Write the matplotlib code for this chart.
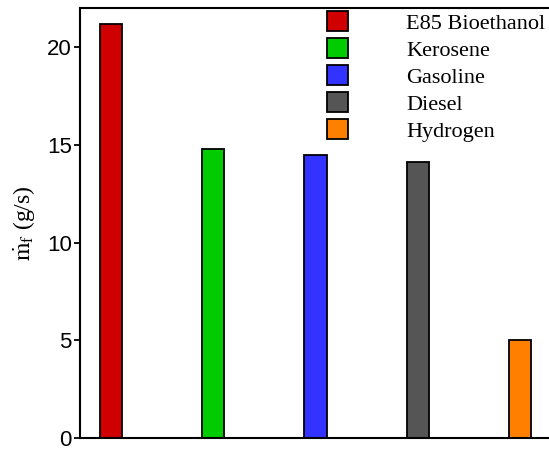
import matplotlib
matplotlib.use("Agg")
import matplotlib.pyplot as plt
from matplotlib.patches import Patch

fuels = ["E85 Bioethanol", "Kerosene", "Gasoline", "Diesel", "Hydrogen"]
mdot = [21.2, 14.77, 14.49, 14.1, 5.0]
colors = ["#d00000", "#00cc00", "#3333ff", "#555555", "#ff8000"]
yticks = [0, 5, 10, 15, 20]

plt.rcParams['mathtext.fontset'] = 'stix'

fig = plt.figure(figsize=(5.49, 4.5), dpi=100)
ax = fig.add_axes([80 / 549, 12 / 450, 471 / 549, 430 / 450])

x = list(range(len(fuels)))
ax.bar(x, mdot, width=0.215, color=colors, edgecolor="black", linewidth=1.3)

ax.set_xlim(-0.3, 4.3)
ax.set_ylim(0, 22)
ax.set_xticks([])
ax.set_yticks(yticks)
ax.tick_params(axis="y", direction="out", length=4, width=1.3, labelsize=16, pad=2)
for lab in ax.get_yticklabels():
    lab.set_family("Liberation Sans")
for s in ax.spines.values():
    s.set_linewidth(1.5)

ax.set_ylabel(r"$\dot{\mathrm{m}}_\mathrm{f}$ (g/s)", fontsize=17, family="Liberation Serif", labelpad=6)

handles = [Patch(facecolor=c, edgecolor="black", linewidth=1.3) for c in colors]
ax.legend(handles, fuels, loc="upper left", bbox_to_anchor=(327 / 549, 1 - 11 / 450),
          bbox_transform=fig.transFigure, frameon=False,
          prop={"family": "Liberation Serif", "size": 16},
          handlelength=0.95, handleheight=1.0, handletextpad=2.6,
          labelspacing=0.2, borderpad=0, borderaxespad=0)

fig.savefig("out.png", dpi=100)
